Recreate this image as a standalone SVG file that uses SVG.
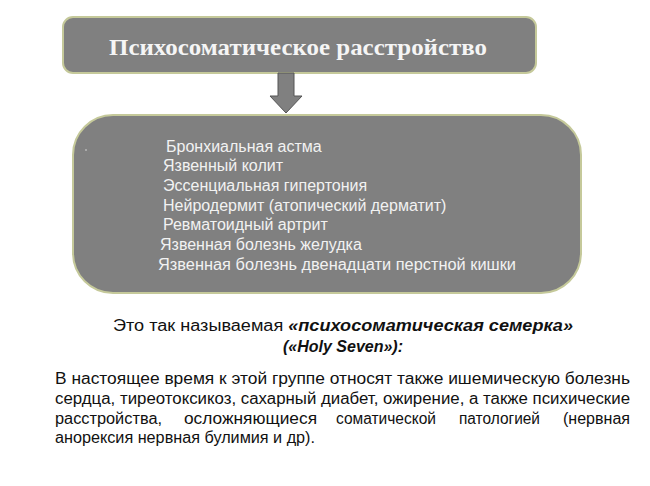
<svg xmlns="http://www.w3.org/2000/svg" width="650" height="486" viewBox="0 0 650 486">
<style>
.box{fill:#808080;stroke:#c5c99a;stroke-width:2}
.item{font-family:"Liberation Sans",sans-serif;font-size:16px;fill:#f2f2f2}
.para{font-family:"Liberation Sans",sans-serif;font-size:16px;fill:#111}
</style>
<rect width="650" height="486" fill="#fff"/>
<g id="top">
<rect class="box" x="63" y="17" width="473" height="56" rx="10"/>
<text x="109" y="55" font-family="Liberation Serif,serif" font-weight="bold" font-size="24" fill="#f5f5f5" textLength="378" lengthAdjust="spacingAndGlyphs">Психосоматическое расстройство</text>
</g>
<g id="connectors">
<polygon points="278,73 294,73 294,96 302,96 286,113 270,96 278,96" fill="#808080" stroke="#555" stroke-width="1"/>
</g>
<g id="list">
<rect class="box" x="73" y="115" width="508" height="178" rx="40"/>
<circle cx="86" cy="150" r="0.8" fill="#ddd"/>
<text class="item" x="166" y="152">Бронхиальная астма</text>
<text class="item" x="163" y="171">Язвенный колит</text>
<text class="item" x="163" y="191">Эссенциальная гипертония</text>
<text class="item" x="163" y="211">Нейродермит (атопический дерматит)</text>
<text class="item" x="163" y="230">Ревматоидный артрит</text>
<text class="item" x="160" y="250">Язвенная болезнь желудка</text>
<text class="item" x="158" y="270" textLength="358" lengthAdjust="spacingAndGlyphs">Язвенная болезнь двенадцати перстной кишки</text>
</g>
<g id="caption" class="para">
<text x="343" y="331" text-anchor="middle" textLength="460" lengthAdjust="spacingAndGlyphs">Это так называемая <tspan font-weight="bold" font-style="italic">«психосоматическая семерка»</tspan></text>
<text x="343" y="352" text-anchor="middle" font-weight="bold" font-style="italic">(«Holy Seven»):</text>
<text x="55" y="384" textLength="575" lengthAdjust="spacingAndGlyphs">В настоящее время к этой группе относят также ишемическую болезнь</text>
<text x="55" y="404" textLength="575" lengthAdjust="spacingAndGlyphs">сердца, тиреотоксикоз, сахарный диабет, ожирение, а также психические</text>
<text x="55" y="424" textLength="107" lengthAdjust="spacingAndGlyphs">расстройства,</text>
<text x="184" y="424" textLength="133" lengthAdjust="spacingAndGlyphs">осложняющиеся</text>
<text x="336" y="424" textLength="100" lengthAdjust="spacingAndGlyphs">соматической</text>
<text x="459" y="424" textLength="81" lengthAdjust="spacingAndGlyphs">патологией</text>
<text x="563" y="424" textLength="67" lengthAdjust="spacingAndGlyphs">(нервная</text>
<text x="55" y="443" textLength="260" lengthAdjust="spacingAndGlyphs">анорексия нервная булимия и др).</text>
</g>
</svg>
